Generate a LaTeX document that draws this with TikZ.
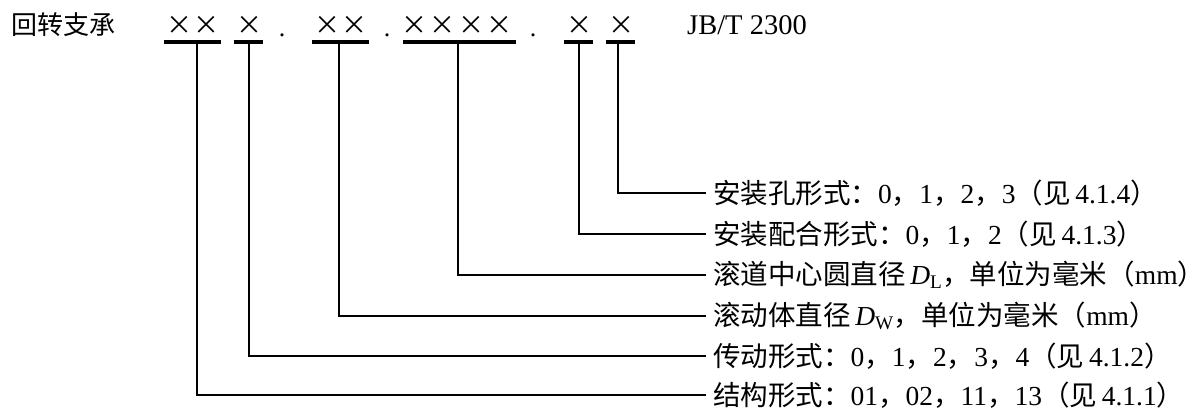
\documentclass[tikz,border=0pt]{standalone}
\usepackage{fontspec}
\setmainfont{Liberation Serif}
\newfontfamily\cjk{Noto Sans CJK SC}
\newcommand\zh[1]{{\cjk #1}}
\begin{document}
\begin{tikzpicture}[x=1pt,y=-1pt,
  txt/.style={inner sep=0pt, font=\fontsize{26}{30}\selectfont},
  xm/.style={inner sep=0pt, font=\fontsize{26}{30}\selectfont\cjk},
  lbl/.style={anchor=west, inner xsep=7pt, inner ysep=0pt, font=\fontsize{27.5}{30}\selectfont},
  bar/.style={line width=4pt},
  conn/.style={line width=1.2pt}]
\useasboundingbox (0,0) rectangle (1203,412);
% title row
\node[xm, anchor=west] (t) at (11,25) {回转支承};
\node[xm] (m1) at (179,25) {×};
\node[xm] (m2) at (206,25) {×};
\node[xm] (m3) at (249,25) {×};
\node[txt, anchor=base] (d1) at (282,37) {.};
\node[xm] (m4) at (327,25) {×};
\node[xm] (m5) at (354,25) {×};
\node[txt, anchor=base] (d2) at (387,37) {.};
\node[xm] (m6) at (414,25) {×};
\node[xm] (m7) at (442,25) {×};
\node[xm] (m8) at (471,25) {×};
\node[xm] (m9) at (499,25) {×};
\node[txt, anchor=base] (d3) at (533,37) {.};
\node[xm] (m10) at (579,25) {×};
\node[xm] (m11) at (621,25) {×};
\node[inner sep=0pt, font=\fontsize{28.5}{32}\selectfont] (std) at (747,25) {JB/T 2300};
% underlines
\draw[bar] (164,42) -- (221,42);
\draw[bar] (234,42) -- (263,42);
\draw[bar] (312,42) -- (369,42);
\draw[bar] (403,42) -- (516,42);
\draw[bar] (564,42) -- (593,42);
\draw[bar] (606,42) -- (635,42);
\coordinate (s1) at (197,42);
\coordinate (s2) at (249,42);
\coordinate (s3) at (339,42);
\coordinate (s4) at (458,42);
\coordinate (s5) at (579,42);
\coordinate (s6) at (618,42);
% labels
\node[lbl] (l1) at (706,193) {\zh{安装孔形式：}0\zh{，}1\zh{，}2\zh{，}3\zh{（见}\,4.1.4\zh{）}};
\node[lbl] (l2) at (706,234) {\zh{安装配合形式：}0\zh{，}1\zh{，}2\zh{（见}\,4.1.3\zh{）}};
\node[lbl] (l3) at (706,275) {\zh{滚道中心圆直径}\,\textit{D}\textsubscript{L}\zh{，单位为毫米（}mm\zh{）}};
\node[lbl] (l4) at (706,316) {\zh{滚动体直径}\,\textit{D}\textsubscript{W}\zh{，单位为毫米（}mm\zh{）}};
\node[lbl] (l5) at (706,356) {\zh{传动形式：}0\zh{，}1\zh{，}2\zh{，}3\zh{，}4\zh{（见}\,4.1.2\zh{）}};
\node[lbl] (l6) at (706,395) {\zh{结构形式：}01\zh{，}02\zh{，}11\zh{，}13\zh{（见}\,4.1.1\zh{）}};
% connectors
\draw[conn] (s6) |- (l1.west);
\draw[conn] (s5) |- (l2.west);
\draw[conn] (s4) |- (l3.west);
\draw[conn] (s3) |- (l4.west);
\draw[conn] (s2) |- (l5.west);
\draw[conn] (s1) |- (l6.west);
\end{tikzpicture}
\end{document}
